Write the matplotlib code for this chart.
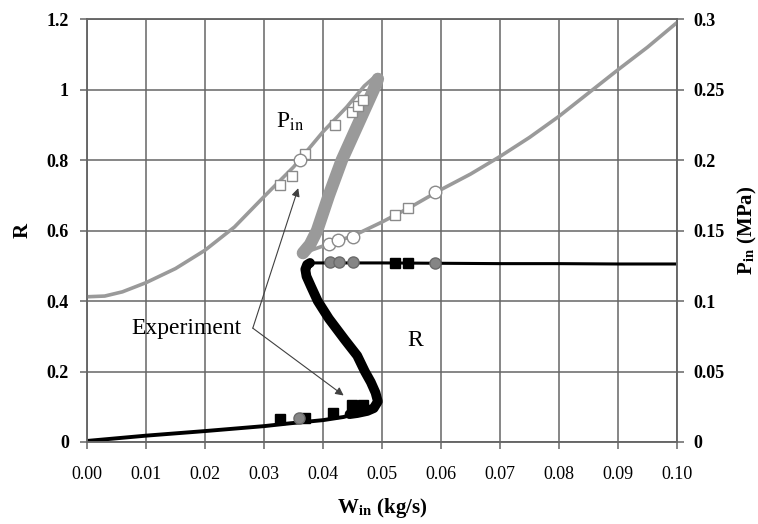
import numpy as np
import matplotlib
matplotlib.use("Agg")
import matplotlib.pyplot as plt
from matplotlib.ticker import FormatStrFormatter

plt.rcParams['font.family'] = 'serif'
plt.rcParams['font.serif'] = ['Liberation Serif', 'DejaVu Serif']
plt.rcParams['mathtext.fontset'] = 'stix'

# --- R (void fraction) curve, left axis -------------------------------------
r_low_w = [0.0, 0.01, 0.02, 0.03, 0.0344, 0.04, 0.0435, 0.0458, 0.0475]
r_low = [0.003, 0.018, 0.031, 0.045, 0.053, 0.062, 0.071, 0.082, 0.088]

r_s_w = [0.0445, 0.0458, 0.0475, 0.0486, 0.0493, 0.0489, 0.0481, 0.0471,
         0.0458, 0.0437, 0.041, 0.0391, 0.038, 0.0372, 0.037, 0.0373, 0.0378]
r_s = [0.079, 0.082, 0.088, 0.096, 0.115, 0.14, 0.17, 0.2,
       0.245, 0.29, 0.35, 0.4, 0.44, 0.47, 0.49, 0.503, 0.508]

r_high_w = [0.0378, 0.05, 0.06, 0.07, 0.08, 0.09, 0.10]
r_high = [0.508, 0.508, 0.507, 0.506, 0.506, 0.505, 0.505]

# experiment, R
r_sq_w = [0.0327, 0.037, 0.0417, 0.0449, 0.0467, 0.0522, 0.0544]
r_sq = [0.064, 0.068, 0.082, 0.105, 0.105, 0.509, 0.509]
r_ci_w = [0.0359, 0.0412, 0.0427, 0.0451, 0.059]
r_ci = [0.068, 0.511, 0.511, 0.511, 0.509]

# --- inlet pressure (MPa), right axis ---------------------------------------
p_up_w = [0.0, 0.003, 0.006, 0.01, 0.015, 0.02, 0.025, 0.03, 0.035, 0.04,
          0.044, 0.047, 0.0485, 0.0493]
p_up = [0.103, 0.1035, 0.1065, 0.113, 0.123, 0.136, 0.1525, 0.174, 0.195,
        0.22, 0.2375, 0.2525, 0.258, 0.2575]

p_band_w = [0.0493, 0.0486, 0.0459, 0.0432, 0.041, 0.039, 0.0378, 0.0366]
p_band = [0.2575, 0.25, 0.225, 0.2, 0.175, 0.15, 0.14, 0.134]

p_dn_w = [0.0366, 0.039, 0.042, 0.045, 0.05, 0.055, 0.06, 0.065, 0.07,
          0.075, 0.08, 0.085, 0.09, 0.095, 0.10]
p_dn = [0.134, 0.1375, 0.142, 0.146, 0.156, 0.167, 0.179, 0.19, 0.2025,
        0.216, 0.231, 0.2475, 0.264, 0.28, 0.2975]

# experiment, Pin
p_sq_w = [0.0327, 0.0347, 0.037, 0.042, 0.0449, 0.0459, 0.0468, 0.0522, 0.0544]
p_sq = [0.182, 0.189, 0.2045, 0.225, 0.234, 0.238, 0.2425, 0.161, 0.166]
p_ci_w = [0.0361, 0.041, 0.0425, 0.0451, 0.059]
p_ci = [0.2, 0.1405, 0.1432, 0.1455, 0.177]

x_ticks = np.arange(0, 0.1001, 0.01)
r_ticks = np.arange(0, 1.2001, 0.2)
p_ticks = np.arange(0, 0.3001, 0.05)

grid_c = '#666666'
gray = '#9a9a9a'

fig = plt.figure(figsize=(7.58, 5.24), dpi=100)
ax = fig.add_axes([87 / 758, 82 / 524, 590 / 758, 423 / 524])
ax2 = ax.twinx()

ax.set_xlim(0, 0.1)
ax.set_ylim(0, 1.2)
ax2.set_ylim(0, 0.3)
ax.set_xticks(x_ticks)
ax.set_yticks(r_ticks)
ax2.set_yticks(p_ticks)
ax.xaxis.set_major_formatter(FormatStrFormatter('%.2f'))
ax.yaxis.set_major_formatter(FormatStrFormatter('%g'))
ax2.yaxis.set_major_formatter(FormatStrFormatter('%g'))

ax.grid(True, color=grid_c, lw=1.1)
ax.set_axisbelow(True)
for a in (ax, ax2):
    for s in a.spines.values():
        s.set_color(grid_c)
        s.set_linewidth(1.1)
ax.tick_params(axis='x', direction='out', length=5, width=1.1, color=grid_c,
               labelsize=13, pad=12)
ax.tick_params(axis='y', direction='out', length=5, width=1.1, color=grid_c,
               labelsize=13, pad=8)
ax2.tick_params(axis='y', direction='out', length=5, width=1.1, color=grid_c,
                labelsize=13, pad=7)
for lab in ax.get_yticklabels() + ax2.get_yticklabels():
    lab.set_fontweight('bold')

# R curve
ax.plot(r_low_w, r_low, color='black', lw=2.8, solid_capstyle='round')
ax.plot(r_s_w, r_s, color='black', lw=7, solid_capstyle='round',
        solid_joinstyle='round')
ax.plot(r_high_w, r_high, color='black', lw=2.2)
ax.plot(r_sq_w, r_sq, 's', color='black', ms=7, zorder=5)
ax.plot(r_ci_w, r_ci, 'o', mfc='#858585', mec='#6a6a6a', ms=8, zorder=5)

# Pin curve
ax2.plot(p_up_w, p_up, color=gray, lw=2.6, solid_capstyle='round',
         solid_joinstyle='round')
ax2.plot(p_band_w, p_band, color=gray, lw=9, solid_capstyle='round',
         solid_joinstyle='round')
ax2.plot(p_dn_w, p_dn, color=gray, lw=2.6, solid_joinstyle='round')
ax2.plot(p_sq_w, p_sq, 's', mfc='white', mec='#8a8a8a', mew=1.0, ms=7.5, zorder=5)
ax2.plot(p_ci_w, p_ci, 'o', mfc='white', mec='#8a8a8a', mew=1.0, ms=9, zorder=5)

# labels inside the plot
ax.text(0.0344, 0.907, r'P$_{\mathrm{in}}$', fontsize=17, ha='center', va='center')
ax.text(0.0556, 0.287, 'R', fontsize=17, ha='center', va='center')
ax.text(0.0168, 0.322, 'Experiment', fontsize=17, ha='center', va='center')
arrow = dict(arrowstyle='-|>', color='#404040', lw=0.8, mutation_scale=12,
             shrinkA=0, shrinkB=0)
ax.annotate('', xy=(0.0358, 0.72), xytext=(0.0281, 0.323), arrowprops=arrow)
ax.annotate('', xy=(0.0435, 0.132), xytext=(0.0281, 0.323), arrowprops=arrow)

ax.set_xlabel(r'W$_{\mathbf{in}}$ (kg/s)', fontsize=15, fontweight='bold', labelpad=10)
ax.set_ylabel('R', fontsize=15, fontweight='bold', labelpad=10)
ax2.set_ylabel(r'P$_{\mathbf{in}}$ (MPa)', fontsize=15, fontweight='bold', labelpad=8)

fig.savefig('out.png', dpi=100)
